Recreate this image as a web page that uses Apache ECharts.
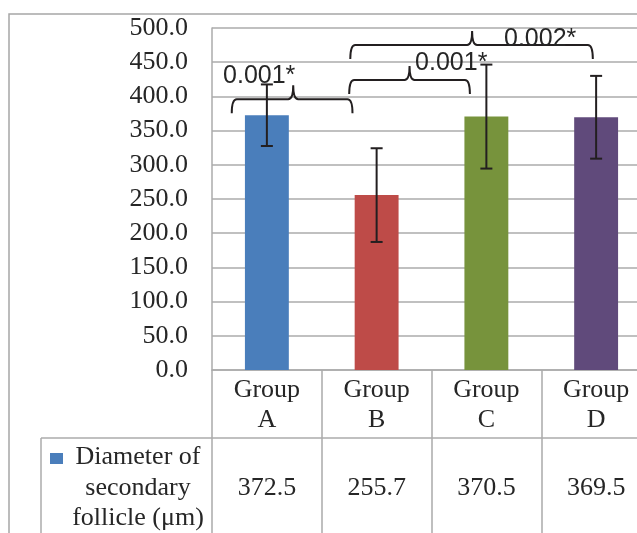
<!DOCTYPE html>
<html>
<head>
<meta charset="utf-8">
<script src="https://cdn.jsdelivr.net/npm/echarts@6/dist/echarts.min.js"></script>
<style>
  html, body { margin: 0; padding: 0; background: #fff; }
  #chart { width: 637px; height: 533px; }
</style>
</head>
<body>
<div id="chart"></div>
<script>
const categories = ['Group A', 'Group B', 'Group C', 'Group D'];
const means = [372.5, 255.7, 370.5, 369.5];
const errors = [45, 68.5, 76, 60.5];
const seriesName = 'Diameter of\nsecondary\nfollicle (μm)';

// significance braces, x in category-index units, level in µm
const braceFrom = [-0.32, 0.75, 0.76];
const braceTip = [0.24, 1.3, 1.87];
const braceTo = [0.78, 1.85, 2.97];
const braceLevel = [396, 424, 475];
const pValues = ['0.001*', '0.001*', '0.002*'];
const pLabelX = [-0.07, 1.68, 2.49];
const pLabelY = [430, 449, 484];

const barColors = ['#4A7EBB', '#BE4B48', '#77933C', '#604A7B'];
const gridGrey = '#ABABAB';
const ink = '#231F20';
const serif = '"Liberation Serif", "DejaVu Serif", serif';

const chart = echarts.init(document.getElementById('chart'));

const braceData = braceFrom.map((f, i) => [f, braceTip[i], braceTo[i], braceLevel[i], pLabelX[i], pLabelY[i]]);

const option = {
  animation: false,
  grid: { left: 212, top: 28, width: 439, height: 342, outerBoundsMode: 'none', containLabel: false },
  xAxis: [
    {
      type: 'category',
      data: categories,
      axisLine: { lineStyle: { color: gridGrey, width: 1.5 } },
      axisTick: { show: true, length: 170, lineStyle: { color: gridGrey, width: 1.5 } },
      axisLabel: {
        formatter: v => v.replace(' ', '\n'),
        fontFamily: serif, fontSize: 26, lineHeight: 30, color: '#262626', margin: 5
      }
    },
    {
      type: 'category',
      data: categories,
      position: 'bottom',
      offset: 68,
      axisLine: { show: false },
      axisTick: { show: false },
      axisLabel: {
        formatter: (v, i) => means[i].toFixed(1),
        fontFamily: serif, fontSize: 26, color: '#262626',
        verticalAlign: 'middle', margin: 50
      }
    },
    { type: 'value', min: -0.5, max: 3.5, show: false }
  ],
  yAxis: {
    type: 'value', min: 0, max: 500, interval: 50,
    axisLine: { show: true, onZero: false, lineStyle: { color: gridGrey, width: 1.5 } },
    axisTick: { show: false },
    splitLine: { lineStyle: { color: gridGrey, width: 1.5 } },
    axisLabel: {
      formatter: v => v.toFixed(1),
      fontFamily: serif, fontSize: 26, color: '#262626', margin: 24
    }
  },
  series: [
    {
      name: seriesName,
      type: 'bar',
      barWidth: '40%',
      data: means.map((v, i) => ({ value: v, itemStyle: { color: barColors[i] } }))
    },
    {
      type: 'custom',
      xAxisIndex: 0,
      z: 5,
      data: means.map((m, i) => [i, m - errors[i], m + errors[i]]),
      renderItem: (params, api) => {
        const lo = api.coord([api.value(0), api.value(1)]);
        const hi = api.coord([api.value(0), api.value(2)]);
        const cap = 6;
        const s = { stroke: ink, lineWidth: 2 };
        return {
          type: 'group',
          children: [
            { type: 'line', shape: { x1: lo[0], y1: lo[1], x2: hi[0], y2: hi[1] }, style: s },
            { type: 'line', shape: { x1: lo[0] - cap, y1: lo[1], x2: lo[0] + cap, y2: lo[1] }, style: s },
            { type: 'line', shape: { x1: hi[0] - cap, y1: hi[1], x2: hi[0] + cap, y2: hi[1] }, style: s }
          ]
        };
      }
    },
    {
      type: 'custom',
      xAxisIndex: 2,
      z: 6,
      data: braceData,
      renderItem: (params, api) => {
        const a = api.coord([api.value(0), api.value(3)]);
        const m = api.coord([api.value(1), api.value(3)]);
        const b = api.coord([api.value(2), api.value(3)]);
        const t = api.coord([api.value(4), api.value(5)]);
        const y = a[1], d = 14, r = 5;
        const p = [
          'M', a[0], y + d, 'Q', a[0], y, a[0] + r, y,
          'L', m[0] - r, y, 'Q', m[0], y, m[0], y - d,
          'Q', m[0], y, m[0] + r, y,
          'L', b[0] - r, y, 'Q', b[0], y, b[0], y + d
        ].join(' ');
        return {
          type: 'group',
          children: [
            { type: 'path', shape: { pathData: p }, style: { stroke: ink, lineWidth: 2, fill: null } },
            {
              type: 'text',
              style: {
                x: t[0], y: t[1], text: pValues[params.dataIndex],
                align: 'center', verticalAlign: 'middle',
                font: '25px "Liberation Sans", Arial, sans-serif', fill: '#262626'
              }
            }
          ]
        };
      }
    }
  ],
  graphic: [
    { type: 'rect', shape: { x: 9, y: 14, width: 700, height: 600 }, style: { stroke: '#A6A6A6', lineWidth: 1.5, fill: null }, silent: true },
    { type: 'line', shape: { x1: 41, y1: 438, x2: 637, y2: 438 }, style: { stroke: gridGrey, lineWidth: 1.5 } },
    { type: 'line', shape: { x1: 41, y1: 438, x2: 41, y2: 540 }, style: { stroke: gridGrey, lineWidth: 1.5 } },
    { type: 'rect', shape: { x: 50, y: 453, width: 13, height: 11 }, style: { fill: barColors[0] } },
    {
      type: 'text', x: 138, y: 442,
      style: {
        text: seriesName, align: 'center', verticalAlign: 'top',
        font: '26px ' + serif, lineHeight: 30.5, fill: '#262626'
      }
    }
  ]
};

chart.setOption(option);
</script>
</body>
</html>
